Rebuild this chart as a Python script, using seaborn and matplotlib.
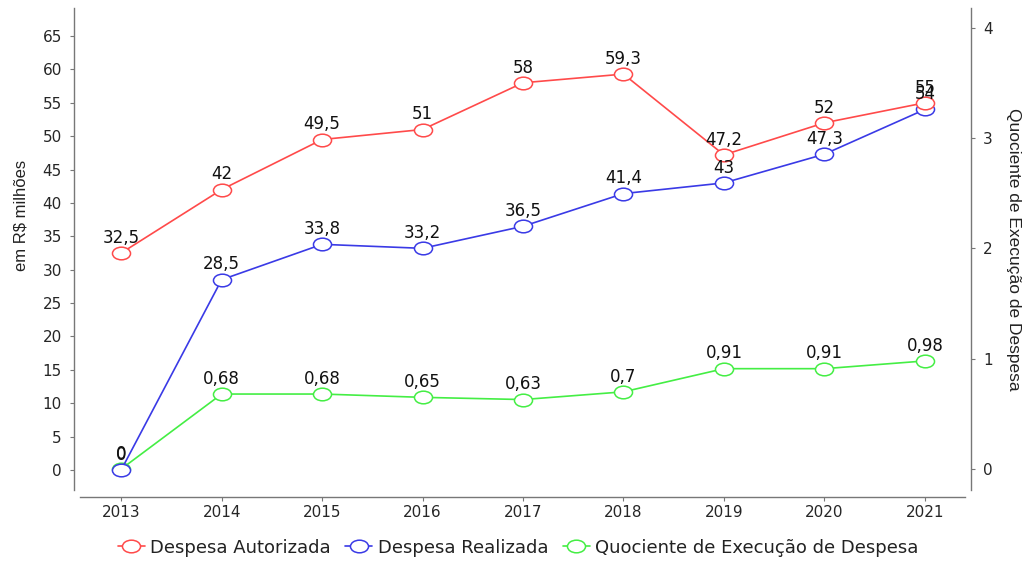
import matplotlib
matplotlib.use("Agg")
import matplotlib.pyplot as plt
import seaborn as sns
import pandas as pd
import numpy as np
from matplotlib.lines import Line2D
from matplotlib.path import Path

# Série histórica (R$ milhões) e quociente de execução
anos = [2013, 2014, 2015, 2016, 2017, 2018, 2019, 2020, 2021]
despesa_autorizada = [32.5, 42, 49.5, 51, 58, 59.3, 47.2, 52, 55]
despesa_realizada = [0, 28.5, 33.8, 33.2, 36.5, 41.4, 43, 47.3, 54]
quociente = [0, 0.68, 0.68, 0.65, 0.63, 0.7, 0.91, 0.91, 0.98]

nomes = ["Despesa Autorizada", "Despesa Realizada", "Quociente de Execução de Despesa"]
cores = ["#ff4a4a", "#3a3ae6", "#44ee44"]

sns.set_theme(style="white")
plt.rcParams["font.family"] = ["DejaVu Sans"]

df = pd.DataFrame({"ano": anos, "aut": despesa_autorizada,
                   "real": despesa_realizada, "quoc": quociente})

# Marcador elíptico (círculo achatado)
circ = Path.unit_circle()
elipse = Path(circ.vertices * np.array([1.0, 0.7]), circ.codes)

W, H = 1030, 561
fig = plt.figure(figsize=(W / 100, H / 100), dpi=100)
ax = fig.add_axes([80 / W, 1 - 490 / H, 885 / W, 482 / H])
ax2 = ax.twinx()
# Eixo principal por cima do secundário
ax.set_zorder(ax2.get_zorder() + 1)
ax.patch.set_visible(False)

estilo = dict(marker=elipse, markersize=13, markerfacecolor="white",
              markeredgewidth=1.1, linewidth=1.2)

sns.lineplot(data=df, x="ano", y="quoc", ax=ax2, color=cores[2],
             markeredgecolor=cores[2], legend=False, **estilo)
sns.lineplot(data=df, x="ano", y="real", ax=ax, color=cores[1],
             markeredgecolor=cores[1], legend=False, **estilo)
sns.lineplot(data=df, x="ano", y="aut", ax=ax, color=cores[0],
             markeredgecolor=cores[0], legend=False, **estilo)


def rotulo(v):
    s = f"{v:g}"
    return s.replace(".", ",")


fonte_rot = dict(fontsize=12, color="#111111", ha="center", va="bottom")
for x, v in zip(anos, despesa_realizada):
    ax.annotate(rotulo(v), (x, v), xytext=(0, 4.5), textcoords="offset points", **fonte_rot)
for x, v in zip(anos, despesa_autorizada):
    ax.annotate(rotulo(v), (x, v), xytext=(0, 4.5), textcoords="offset points", **fonte_rot)
for x, v in zip(anos, quociente):
    ax2.annotate(rotulo(v), (x, v), xytext=(0, 4.5), textcoords="offset points", **fonte_rot)

# Escalas
ax.set_xlim(2012.59, 2021.4)
ax.set_ylim(-3.0, 69.2)
ax2.set_ylim(-0.19, 4.18)
ax.set_xticks(anos)
ax.set_yticks(range(0, 70, 5))
ax2.set_yticks(range(0, 5))

ax.set_xlabel("")
ax.set_ylabel("em R$ milhões", fontsize=12, family="Liberation Sans", color="#222222")
ax.yaxis.set_label_coords(-0.058, 0.57)
ax2.set_ylabel("Quociente de Execução de Despesa", fontsize=12.5, family="Liberation Sans",
               color="#222222", rotation=-90, labelpad=20)

for lab in ax.get_xticklabels():
    lab.set_fontsize(13)
    lab.set_color("#333333")
for lab in ax.get_yticklabels() + ax2.get_yticklabels():
    lab.set_fontsize(10.5)
    lab.set_family("Liberation Sans")
    lab.set_color("#333333")

# Eixos separados
for a in (ax, ax2):
    for s in a.spines.values():
        s.set_visible(False)
ax.spines["left"].set_visible(True)
ax.spines["bottom"].set_visible(True)
ax2.spines["right"].set_visible(True)
ax.spines["left"].set_position(("outward", 4))
ax.spines["bottom"].set_position(("outward", 5))
ax2.spines["right"].set_position(("outward", 4))
for s in (ax.spines["left"], ax.spines["bottom"], ax2.spines["right"]):
    s.set_color("#777777")
    s.set_linewidth(1.0)

ax.tick_params(axis="x", bottom=True, length=3, width=0.8, color="#777777", pad=3)
ax.tick_params(axis="y", left=True, length=3, width=0.8, color="#777777", pad=6)
ax2.tick_params(axis="y", right=True, length=3, width=0.8, color="#777777", pad=6)
ax.grid(False)
ax2.grid(False)

# Legenda
alcas = [Line2D([0], [0], color=c, marker=elipse, markersize=13, markerfacecolor="white",
                markeredgecolor=c, markeredgewidth=1.1, linewidth=1.2) for c in cores]
fig.legend(alcas, nomes, loc="center", bbox_to_anchor=(0.503, 0.024), ncol=3,
           frameon=False, fontsize=13, handlelength=1.5, handletextpad=0.3,
           columnspacing=0.8, labelcolor="#222222")

fig.savefig("out.png", dpi=100, facecolor="white")
